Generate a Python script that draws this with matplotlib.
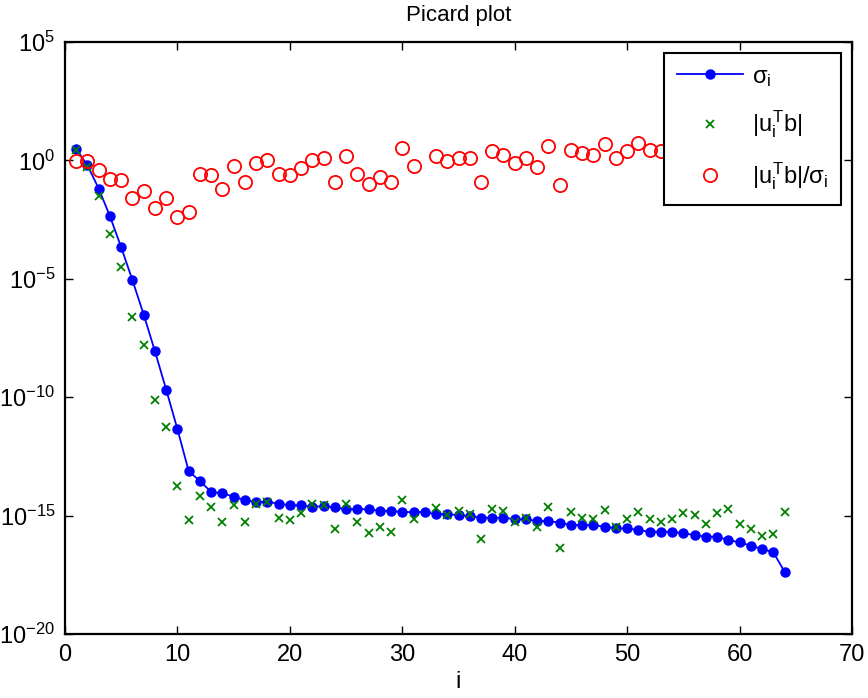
import matplotlib
matplotlib.use('Agg')
import matplotlib.pyplot as plt
import numpy as np

# log10 values
i_idx = np.arange(1, 65)

log_sigma = [0.49, -0.21, -1.19, -2.36, -3.67, -5.06, -6.51, -8.06, -9.68, -11.35,
             -13.12, -13.54, -14.0, -14.06, -14.2, -14.35, -14.42, -14.42, -14.49, -14.56,
             -14.57, -14.63, -14.6, -14.65, -14.73, -14.73, -14.73, -14.8, -14.8, -14.85,
             -14.85, -14.85, -14.94, -14.94, -14.98, -15.02, -15.09, -15.09, -15.09, -15.15,
             -15.16, -15.23, -15.23, -15.3, -15.4, -15.4, -15.4, -15.47, -15.54, -15.54,
             -15.61, -15.68, -15.68, -15.68, -15.75, -15.82, -15.89, -15.89, -16.03, -16.13,
             -16.27, -16.41, -16.55, -17.37]

log_utb = [0.45, -0.28, -1.52, -3.12, -4.51, -6.62, -7.81, -10.13, -11.25, -13.73,
           -15.19, -14.18, -14.63, -15.26, -14.56, -15.26, -14.51, -14.42, -15.08, -15.19,
           -14.91, -14.53, -14.56, -15.58, -14.53, -15.26, -15.72, -15.5, -15.71, -14.32,
           -15.15, np.nan, -14.67, -14.98, -14.81, -14.94, -16.0, -14.7, -14.82, -15.27,
           -15.08, -15.5, -14.63, -16.36, -14.84, -15.08, -15.15, -14.77, -15.47, -15.15,
           -14.84, -15.15, -15.29, -15.15, -14.91, -14.98, -15.36, -14.91, -14.7, -15.36,
           -15.58, -15.86, -15.79, -14.84]

log_ratio = [-0.03, -0.03, -0.42, -0.80, -0.84, -1.59, -1.29, -2.0, -1.59, -2.39,
             -2.18, -0.56, -0.62, -1.19, -0.25, -0.91, -0.11, 0.03, -0.56, -0.63,
             -0.32, 0.03, 0.11, -0.91, 0.17, -0.56, -0.98, -0.70, -0.91, 0.54,
             -0.25, np.nan, 0.17, -0.04, 0.1, 0.1, -0.91, 0.39, 0.24, -0.11,
             0.1, -0.26, 0.6, -1.05, 0.45, 0.31, 0.25, 0.68, 0.1, 0.38,
             0.75, 0.45, 0.39, 0.53, 0.84, 0.84, 0.53, 0.98, 1.33, 0.77,
             0.69, 0.55, 0.76, 2.53]

sigma = 10.0 ** np.array(log_sigma)
utb = 10.0 ** np.array(log_utb)
ratio = 10.0 ** np.array(log_ratio)

plt.rcParams['font.family'] = ['Liberation Sans', 'DejaVu Sans']
plt.rcParams['mathtext.fontset'] = 'custom'
plt.rcParams['mathtext.rm'] = 'Liberation Sans'
plt.rcParams['mathtext.it'] = 'Liberation Sans'
plt.rcParams['mathtext.bf'] = 'Liberation Sans'

fig = plt.figure(figsize=(8.68, 6.98), dpi=100)
ax = fig.add_axes([0.0749, 0.0917, 0.9067, 0.848])

ax.semilogy(i_idx, sigma, '-o', color=(0, 0, 1), lw=1.3, ms=6.5, mec=(0, 0, 1),
            label=r'$\sigma_\mathrm{i}$')
ax.semilogy(i_idx, utb, 'x', color=(0, 0.5, 0), ms=6, mew=1.3,
            label=r'$|u_\mathrm{i}^\mathrm{T}b|$')
ax.semilogy(i_idx, ratio, 'o', mfc='none', mec=(1, 0, 0), ms=9.5, mew=1.3,
            label=r'$|u_\mathrm{i}^\mathrm{T}b|/\sigma_\mathrm{i}$')

ax.set_xlim(0, 70)
ax.set_ylim(1e-20, 1e5)
ax.set_xticks(np.arange(0, 71, 10))
ax.set_yticks([10.0 ** e for e in range(-20, 6, 5)])
ax.set_yticklabels([r'$10^{%d}$' % e for e in range(-20, 6, 5)])
ax.yaxis.set_minor_locator(matplotlib.ticker.NullLocator())
ax.tick_params(which='both', direction='in', top=True, right=True,
               length=6, width=1, labelsize=17, pad=7)
for s in ax.spines.values():
    s.set_linewidth(1.6)

ax.set_title('Picard plot', fontsize=16, pad=15)
ax.set_xlabel('i', fontsize=17, labelpad=4)

leg = ax.legend(loc='upper right', fontsize=17, fancybox=False, framealpha=1,
                edgecolor='black', borderaxespad=0.45, labelspacing=0.85,
                handlelength=2.8, handletextpad=0.4, borderpad=0.55)
leg.get_frame().set_linewidth(1.5)
leg.set_zorder(5)

fig.savefig('out.png', dpi=100)
